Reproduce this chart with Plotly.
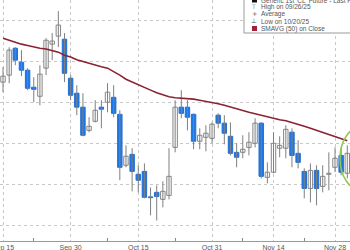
import plotly.graph_objects as go

dates = ["2025-09-15","2025-09-16","2025-09-17","2025-09-18","2025-09-19",
         "2025-09-22","2025-09-23","2025-09-24","2025-09-25","2025-09-26",
         "2025-09-29","2025-09-30","2025-10-01","2025-10-02","2025-10-03",
         "2025-10-06","2025-10-07","2025-10-08","2025-10-09","2025-10-10",
         "2025-10-13","2025-10-14","2025-10-15","2025-10-16","2025-10-17",
         "2025-10-20","2025-10-21","2025-10-22","2025-10-23","2025-10-24",
         "2025-10-27","2025-10-28","2025-10-29","2025-10-30","2025-10-31",
         "2025-11-03","2025-11-04","2025-11-05","2025-11-06","2025-11-07",
         "2025-11-10","2025-11-11","2025-11-12","2025-11-13","2025-11-14",
         "2025-11-17","2025-11-18","2025-11-19","2025-11-20","2025-11-21",
         "2025-11-24","2025-11-25","2025-11-26","2025-11-27","2025-11-28",
         "2025-12-01","2025-12-02"]

opens = [62.98,63.32,64.63,63.95,63.56,62.73,62.29,63.66,64.83,65.22,
         65.07,63.17,62.44,61.76,60.63,61.07,61.76,62.00,62.24,61.41,
         58.93,59.46,58.49,58.63,57.39,57.61,57.27,57.46,59.80,61.76,
         61.76,61.41,60.10,60.29,60.24,61.37,60.98,60.34,59.56,59.56,
         59.80,60.00,60.98,58.34,58.59,59.76,59.76,60.54,59.51,58.63,
         57.80,58.68,57.90,58.49,58.83,59.41,58.54]
highs = [63.71,64.68,64.68,64.54,63.66,63.22,63.80,65.12,65.37,66.44,
         65.37,63.32,62.83,62.44,61.27,62.10,62.10,62.93,62.83,61.61,
         59.90,59.76,58.93,59.02,57.85,57.95,58.15,59.76,62.10,62.59,
         62.10,61.46,60.73,60.88,61.02,61.46,61.37,61.02,60.00,60.39,
         60.54,61.22,61.02,59.07,60.54,60.34,60.88,60.73,60.15,58.78,
         59.02,58.93,58.93,59.56,59.80,59.80,59.90]
lows = [62.49,62.93,63.80,63.27,62.59,62.00,61.85,63.32,64.05,64.68,
        62.98,62.10,61.37,60.34,60.54,61.02,60.73,61.51,61.27,58.20,
        58.83,57.66,57.61,57.32,56.49,56.24,56.88,57.27,59.56,61.22,
        60.63,59.71,59.71,59.61,60.00,60.73,59.95,59.41,58.83,59.27,
        59.41,59.80,58.29,58.05,58.54,59.32,59.27,58.83,58.78,57.32,
        57.12,56.98,57.61,57.71,58.59,58.44,58.29]
closes = [63.27,64.54,64.05,63.56,62.68,62.63,63.37,65.02,64.98,65.76,
          63.41,62.34,61.76,60.39,60.83,61.61,61.66,62.49,61.46,58.83,
          59.37,58.63,58.20,57.37,57.35,57.41,57.66,58.39,61.76,61.46,
          61.27,60.10,60.39,60.49,60.93,60.98,60.49,59.51,59.32,59.71,
          60.05,60.98,58.39,58.59,60.00,59.90,60.68,59.41,59.07,57.80,
          58.68,57.80,58.39,58.54,59.27,58.59,59.51]
sma50 = [65.12,65.02,64.93,64.83,64.76,64.68,64.63,64.59,64.51,64.44,
         64.29,64.20,64.07,63.98,63.88,63.80,63.73,63.66,63.51,63.32,
         63.12,62.98,62.83,62.71,62.59,62.46,62.37,62.27,62.22,62.20,
         62.17,62.15,62.10,62.05,62.00,61.93,61.85,61.76,61.66,61.59,
         61.51,61.44,61.37,61.27,61.20,61.15,61.10,61.02,60.93,60.83,
         60.73,60.63,60.54,60.44,60.34,60.24,60.12]

tick_dates = ["2025-09-15","2025-09-30","2025-10-15","2025-10-31","2025-11-14","2025-11-28"]
tick_labels = ["Sep 15","Sep 30","Oct 15","Oct 31","Nov 14","Nov 28"]
minor_dates = ["2025-09-22","2025-10-08","2025-10-23","2025-11-07","2025-11-21"]
y_grid = [56, 58, 60, 62, 64, 66]

legend_lines = ["Generic 1st 'CL' Future - Last Price", "High on 09/26/25",
                "Average", "Low on 10/20/25", "SMAVG (50) on Close"]
legend_syms = ["", "\u22a4", "+", "\u22a5", ""]

UP_FILL, UP_LINE = "white", "#858585"
DN_FILL, DN_LINE = "#1e78e6", "#1e6fd8"
WICK = "#7f7f7f"

xi = list(range(len(dates)))
W, PH = 350, 241

def px(x):
    return x / W

def py(y):
    return 1 - y / PH

up = [c >= o for o, c in zip(opens, closes)]
body_base = [min(o, c) for o, c in zip(opens, closes)]
body_h = [max(abs(c - o), 0.02) for o, c in zip(opens, closes)]

wx, wy = [], []
for i in xi:
    wx += [i, i, None]
    wy += [lows[i], highs[i], None]

fig = go.Figure()
fig.add_trace(go.Scatter(x=wx, y=wy, mode="lines", line=dict(color=WICK, width=1),
                         showlegend=False, hoverinfo="skip"))
fig.add_trace(go.Bar(x=xi, base=body_base, y=body_h, width=0.72,
                     marker=dict(color=[UP_FILL if u else DN_FILL for u in up],
                                 line=dict(color=[UP_LINE if u else DN_LINE for u in up], width=1)),
                     hovertext=dates, showlegend=False))
fig.add_trace(go.Scatter(x=xi, y=sma50, mode="lines",
                         line=dict(color="#8b2232", width=1.6), showlegend=False))

fig.update_layout(
    width=350, height=250,
    margin=dict(l=0, r=0, t=0, b=9, autoexpand=False),
    paper_bgcolor="white", plot_bgcolor="white",
    barmode="overlay",
    font=dict(family="Liberation Sans", size=7, color="#555"),
    xaxis=dict(range=[-0.49, 56.44], automargin=False,
               tickvals=[dates.index(d) for d in tick_dates], ticktext=tick_labels,
               ticklabeloverflow="allow",
               showgrid=True, gridcolor="#c8c8c8", griddash="dot", gridwidth=1,
               showline=True, linecolor="#9a9a9a", linewidth=1,
               ticks="", tickfont=dict(size=7, color="#555"),
               minor=dict(tickvals=[dates.index(d) for d in minor_dates],
                          ticks="inside", ticklen=3, tickcolor="#888", showgrid=False),
               zeroline=False),
    yaxis=dict(range=[55.24, 66.98], tickvals=y_grid, showticklabels=False,
               automargin=False,
               showgrid=True, gridcolor="#c8c8c8", griddash="dot", gridwidth=1,
               zeroline=False, showline=False),
)

# green ellipse highlight
fig.add_shape(type="circle", xref="paper", yref="paper",
              x0=px(340), x1=px(382), y0=py(190), y1=py(127),
              line=dict(color="#8cc850", width=1.5))

# legend box
fig.add_shape(type="rect", xref="paper", yref="paper",
              x0=px(244), x1=px(354), y0=py(33), y1=py(-6),
              line=dict(color="#9a9a9a", width=1), fillcolor="white")
line_y = [0, 7, 14, 21, 28.5]
for i, (txt, sym) in enumerate(zip(legend_lines, legend_syms)):
    fig.add_annotation(xref="paper", yref="paper", x=px(259), y=py(line_y[i]),
                       text=txt, showarrow=False, xanchor="left", yanchor="middle",
                       font=dict(size=6.5, color="#555"))
    if sym:
        fig.add_annotation(xref="paper", yref="paper", x=px(254.5), y=py(line_y[i]),
                           text=sym, showarrow=False, xanchor="center", yanchor="middle",
                           font=dict(size=6.5, color="#555", family="DejaVu Sans"))
fig.add_shape(type="rect", xref="paper", yref="paper",
              x0=px(252), x1=px(257), y0=py(line_y[0] + 2.5), y1=py(line_y[0] - 2.5),
              line=dict(width=0), fillcolor="#111")
fig.add_shape(type="rect", xref="paper", yref="paper",
              x0=px(252), x1=px(257), y0=py(line_y[4] + 2.5), y1=py(line_y[4] - 2.5),
              line=dict(width=0), fillcolor="#a0203a")

fig.write_html("out.html")
